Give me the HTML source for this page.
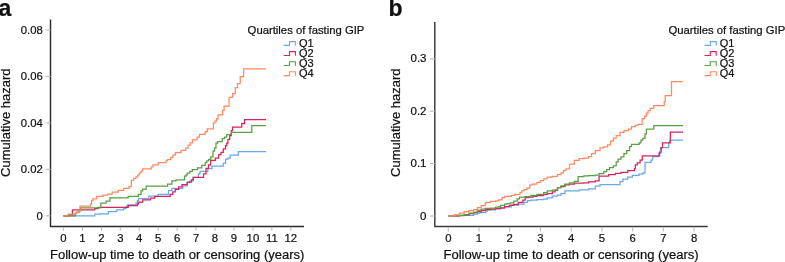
<!DOCTYPE html>
<html><head><meta charset="utf-8"><style>
html,body{margin:0;padding:0;background:#fff;}
svg{display:block;will-change:transform;}
text{stroke:#111;stroke-width:0.22px;}
</style></head><body>
<svg width="785" height="262" viewBox="0 0 785 262" font-family="Liberation Sans, sans-serif" fill="#111">
<path d="M50.5,19.6V226.4H304.0" fill="none" stroke="#2b2b2b" stroke-width="1.45"/>
<path d="M45.60,30.0H50.5" stroke="#bdbdbd" stroke-width="1.1"/>
<path d="M45.60,76.45H50.5" stroke="#bdbdbd" stroke-width="1.1"/>
<path d="M45.60,122.9H50.5" stroke="#bdbdbd" stroke-width="1.1"/>
<path d="M45.60,169.35H50.5" stroke="#bdbdbd" stroke-width="1.1"/>
<path d="M45.60,215.8H50.5" stroke="#bdbdbd" stroke-width="1.1"/>
<text x="42.8" y="33.75" text-anchor="end" font-size="11.3">0.08</text>
<text x="42.8" y="80.20" text-anchor="end" font-size="11.3">0.06</text>
<text x="42.8" y="126.65" text-anchor="end" font-size="11.3">0.04</text>
<text x="42.8" y="173.10" text-anchor="end" font-size="11.3">0.02</text>
<text x="42.8" y="219.55" text-anchor="end" font-size="11.3">0</text>
<path d="M63.50,227.1V230.8" stroke="#bdbdbd" stroke-width="1.1"/>
<text x="63.50" y="241.9" text-anchor="middle" font-size="11.3">0</text>
<path d="M82.44,227.1V230.8" stroke="#bdbdbd" stroke-width="1.1"/>
<text x="82.44" y="241.9" text-anchor="middle" font-size="11.3">1</text>
<path d="M101.38,227.1V230.8" stroke="#bdbdbd" stroke-width="1.1"/>
<text x="101.38" y="241.9" text-anchor="middle" font-size="11.3">2</text>
<path d="M120.32,227.1V230.8" stroke="#bdbdbd" stroke-width="1.1"/>
<text x="120.32" y="241.9" text-anchor="middle" font-size="11.3">3</text>
<path d="M139.26,227.1V230.8" stroke="#bdbdbd" stroke-width="1.1"/>
<text x="139.26" y="241.9" text-anchor="middle" font-size="11.3">4</text>
<path d="M158.20,227.1V230.8" stroke="#bdbdbd" stroke-width="1.1"/>
<text x="158.20" y="241.9" text-anchor="middle" font-size="11.3">5</text>
<path d="M177.14,227.1V230.8" stroke="#bdbdbd" stroke-width="1.1"/>
<text x="177.14" y="241.9" text-anchor="middle" font-size="11.3">6</text>
<path d="M196.08,227.1V230.8" stroke="#bdbdbd" stroke-width="1.1"/>
<text x="196.08" y="241.9" text-anchor="middle" font-size="11.3">7</text>
<path d="M215.02,227.1V230.8" stroke="#bdbdbd" stroke-width="1.1"/>
<text x="215.02" y="241.9" text-anchor="middle" font-size="11.3">8</text>
<path d="M233.96,227.1V230.8" stroke="#bdbdbd" stroke-width="1.1"/>
<text x="233.96" y="241.9" text-anchor="middle" font-size="11.3">9</text>
<path d="M252.90,227.1V230.8" stroke="#bdbdbd" stroke-width="1.1"/>
<text x="252.90" y="241.9" text-anchor="middle" font-size="11.3">10</text>
<path d="M271.84,227.1V230.8" stroke="#bdbdbd" stroke-width="1.1"/>
<text x="271.84" y="241.9" text-anchor="middle" font-size="11.3">11</text>
<path d="M290.78,227.1V230.8" stroke="#bdbdbd" stroke-width="1.1"/>
<text x="290.78" y="241.9" text-anchor="middle" font-size="11.3">12</text>
<text x="177.2" y="258.8" text-anchor="middle" font-size="13">Follow-up time to death or censoring (years)</text>
<text transform="translate(9.9,122.7) rotate(-90)" text-anchor="middle" font-size="13">Cumulative hazard</text>
<path d="M63.3,215.8H94.8V214.1H100.0V213.9H108.4V211.6H116.8V209.8H123.7V208.6H126.0V206.3H127.5V204.8H135.9V203.2H137.4V200.6H138.4V198.7H148.7V196.0H158.2V194.4H168.5V190.6H171.9V188.4H182.9V185.9H187.2V182.5H189.8V180.8H193.2V177.3H198.4V173.9H200.0V171.3H207.8V168.7H211.9V166.0H223.3V163.1H225.6V159.2H227.9V158.0H230.2V155.1H238.3V151.5H266.0" fill="none" stroke="#6aa8e8" stroke-width="1.25"/>
<path d="M63.3,215.8H69.0V214.6H72.4V209.8H94.8V208.5H98.0V207.4H128.2V205.5H137.4V204.0H138.4V202.1H142.7V199.9H150.5V198.1H154.8V196.4H170.2V194.4H172.8V191.8H175.2V189.4H178.6V186.8H182.0V184.6H187.2V182.1H191.5V179.9H193.2V177.3H203.5V173.9H206.0V168.4H208.5V164.9H210.7V160.3H215.3V158.0H218.7V154.6H221.0V152.3H223.3V148.9H225.6V145.5H226.7V143.2H227.9V139.3H229.7V135.6H231.3V130.6H232.5V127.2H241.7V123.7H244.5V119.5H266.0" fill="none" stroke="#d6245a" stroke-width="1.25"/>
<path d="M63.3,215.8H75.3V213.6H76.2V212.0H79.1V210.3H80.5V207.9H100.8V203.2H106.1V201.0H109.9V197.9H128.2V196.4H138.4V194.4H141.0V190.9H142.7V189.2H146.2V186.1H167.6V184.0H171.9V180.8H176.0V179.9H184.6V176.0H186.0V174.8H187.2V173.0H189.8V171.3H192.3V169.6H197.5V167.9H201.8V165.3H205.2V162.7H206.8V160.8H208.7V159.3H210.7V156.9H213.0V151.2H214.6V147.8H216.0V143.2H217.6V141.6H222.2V138.6H224.5V137.0H226.7V134.7H231.3V132.3H251.8V125.5H266.0" fill="none" stroke="#5a9e45" stroke-width="1.25"/>
<path d="M63.3,215.8H68.1V214.1H75.7V212.7H78.6V211.7H80.0V206.0H90.5V204.0H91.5V200.7H92.9V198.8H96.7V196.4H103.0V195.0H107.6V194.1H112.2V192.1H118.3V190.3H123.7V188.3H129.0V186.5H131.3V180.3H133.6V178.4H135.9V176.8H137.6V175.1H139.3V172.9H141.0V171.2H142.7V168.9H151.3V166.9H153.0V164.8H158.2V162.6H165.9V160.9H167.3V159.6H170.7V157.3H173.0V155.0H175.3V152.5H181.0V150.4H185.6V148.1H188.0V145.1H190.2V142.8H192.5V139.9H197.1V137.1H199.4V134.4H205.1V132.1H206.2V131.3H207.3V128.9H213.4V123.2H214.9V121.0H216.5V118.7H218.0V114.8H222.6V110.3H224.1V106.0H229.1V97.3H232.6V93.6H235.3V87.5H237.5V83.7H240.2V76.5H243.6V68.9H266.0" fill="none" stroke="#ff8a62" stroke-width="1.25"/>
<g transform="translate(0,0)">
<text x="247.6" y="34.1" font-size="11.3">Quartiles of fasting GIP</text>
<path d="M283.7,45.40H289.5V41.60H295.4V45.60" fill="none" stroke="#6aa8e8" stroke-width="1.1"/>
<text x="299.0" y="46.50" font-size="11">Q1</text>
<path d="M283.7,55.47H289.5V51.67H295.4V55.67" fill="none" stroke="#d6245a" stroke-width="1.1"/>
<text x="299.0" y="56.57" font-size="11">Q2</text>
<path d="M283.7,65.54H289.5V61.74H295.4V65.74" fill="none" stroke="#5a9e45" stroke-width="1.1"/>
<text x="299.0" y="66.64" font-size="11">Q3</text>
<path d="M283.7,75.61H289.5V71.81H295.4V75.81" fill="none" stroke="#ff8a62" stroke-width="1.1"/>
<text x="299.0" y="76.71" font-size="11">Q4</text>
</g>
<text x="-1.5" y="16" font-size="23" font-weight="bold" stroke="#000" stroke-width="0.35">a</text>
<path d="M434.8,21.9V226.4H707.7" fill="none" stroke="#3c3c3c" stroke-width="1.45"/>
<path d="M429.90,58.8H434.8" stroke="#bdbdbd" stroke-width="1.1"/>
<path d="M429.90,111.2H434.8" stroke="#bdbdbd" stroke-width="1.1"/>
<path d="M429.90,163.6H434.8" stroke="#bdbdbd" stroke-width="1.1"/>
<path d="M429.90,216.0H434.8" stroke="#bdbdbd" stroke-width="1.1"/>
<text x="426.5" y="62.45" text-anchor="end" font-size="11.5">0.3</text>
<text x="426.5" y="114.85" text-anchor="end" font-size="11.5">0.2</text>
<text x="426.5" y="167.25" text-anchor="end" font-size="11.5">0.1</text>
<text x="426.5" y="219.65" text-anchor="end" font-size="11.5">0</text>
<path d="M448.30,227.1V231.4" stroke="#bdbdbd" stroke-width="1.1"/>
<text x="448.30" y="241.9" text-anchor="middle" font-size="11.3">0</text>
<path d="M479.02,227.1V231.4" stroke="#bdbdbd" stroke-width="1.1"/>
<text x="479.02" y="241.9" text-anchor="middle" font-size="11.3">1</text>
<path d="M509.74,227.1V231.4" stroke="#bdbdbd" stroke-width="1.1"/>
<text x="509.74" y="241.9" text-anchor="middle" font-size="11.3">2</text>
<path d="M540.46,227.1V231.4" stroke="#bdbdbd" stroke-width="1.1"/>
<text x="540.46" y="241.9" text-anchor="middle" font-size="11.3">3</text>
<path d="M571.18,227.1V231.4" stroke="#bdbdbd" stroke-width="1.1"/>
<text x="571.18" y="241.9" text-anchor="middle" font-size="11.3">4</text>
<path d="M601.90,227.1V231.4" stroke="#bdbdbd" stroke-width="1.1"/>
<text x="601.90" y="241.9" text-anchor="middle" font-size="11.3">5</text>
<path d="M632.62,227.1V231.4" stroke="#bdbdbd" stroke-width="1.1"/>
<text x="632.62" y="241.9" text-anchor="middle" font-size="11.3">6</text>
<path d="M663.34,227.1V231.4" stroke="#bdbdbd" stroke-width="1.1"/>
<text x="663.34" y="241.9" text-anchor="middle" font-size="11.3">7</text>
<path d="M694.06,227.1V231.4" stroke="#bdbdbd" stroke-width="1.1"/>
<text x="694.06" y="241.9" text-anchor="middle" font-size="11.3">8</text>
<text x="571.05" y="258.8" text-anchor="middle" font-size="13.06">Follow-up time to death or censoring (years)</text>
<text transform="translate(399.7,122.7) rotate(-90)" text-anchor="middle" font-size="13">Cumulative hazard</text>
<path d="M448.3,215.8H460.3V215.4H473.6V214.1H477.4V213.1H480.0V212.7H485.8V211.2H487.4V209.8H495.6V208.6H501.8V208.0H504.6V206.9H511.4V205.2H518.3V204.0H524.0V202.3H527.5V200.6H530.9V200.0H536.9V199.6H543.7V199.2H547.2V197.8H552.3V196.1H557.5V195.2H560.9V193.5H565.0V190.9H574.3V190.8H579.1V189.8H588.6V188.9H595.3V186.0H600.0V184.5H620.0V181.6H622.9V179.1H627.7V177.2H632.4V175.3H639.1V174.0H642.9V172.8H645.0V162.4H651.0V160.1H652.6V156.7H658.8V153.3H660.6V147.5H668.7V142.5H669.8V140.2H683.0" fill="none" stroke="#6aa8e8" stroke-width="1.25"/>
<path d="M448.3,215.8H459.3V215.5H464.1V215.0H468.9V213.6H473.6V212.7H477.4V211.7H481.2V210.7H485.3V209.6H490.4V209.1H495.6V208.6H500.0V207.8H504.6V206.5H509.2V205.4H513.7V204.3H518.3V202.3H522.9V200.0H525.2V197.7H528.6V197.2H533.0V196.4H536.9V195.7H543.7V194.4H547.2V193.5H552.3V191.8H555.0V190.1H557.5V187.5H560.9V186.6H565.0V184.9H569.5V184.1H574.3V183.2H583.9V182.8H588.6V181.8H595.3V180.9H599.1V176.2H608.6V174.7H615.3V173.4H621.0V172.4H627.7V170.5H634.4V168.6H635.3V164.8H637.2V162.9H640.1V160.0H642.3V155.8H659.5V152.1H661.1V147.5H662.5V142.9H670.3V132.1H683.0" fill="none" stroke="#d6245a" stroke-width="1.25"/>
<path d="M448.3,215.8H456.5V215.3H464.1V214.6H468.9V213.1H473.6V212.0H477.4V210.7H478.1V210.1H481.2V209.1H485.3V208.4H490.4V208.1H495.6V207.1H498.7V206.5H500.5V205.3H504.6V204.2H506.9V203.5H510.3V202.9H513.7V201.2H517.2V198.9H519.5V197.2H525.2V196.6H530.9V195.4H536.9V194.4H543.7V192.6H547.2V190.9H552.3V190.1H557.5V187.5H560.9V185.8H564.8V184.1H569.5V182.8H574.3V181.3H578.1V176.5H583.9V175.9H588.6V175.5H595.3V175.2H599.1V173.6H603.8V171.5H606.7V169.6H609.5V167.7H613.4V165.8H616.2V161.9H618.1V159.1H621.0V156.8H623.9V153.7H626.7V150.5H629.6V146.7H631.5V144.3H639.1V142.9H641.0V140.1H642.8V138.3H645.0V133.8H646.4V129.2H653.8V125.5H683.0" fill="none" stroke="#5a9e45" stroke-width="1.25"/>
<path d="M448.3,215.8H454.5V214.8H459.3V213.1H464.1V211.7H468.9V210.7H473.6V209.6H477.4V207.5H481.2V205.5H485.3V202.9H486.3V202.4H490.4V201.4H495.6V200.9H498.7V199.8H501.8V198.3H502.3V197.7H504.6V196.4H511.4V195.4H514.9V194.3H520.0V192.6H521.7V190.9H524.0V189.7H526.9V188.0H529.7V185.1H532.0V184.0H536.9V182.3H540.3V180.6H543.7V178.9H547.2V177.2H552.3V176.3H557.5V174.6H560.9V172.9H563.5V170.3H566.0V168.8H569.5V164.1H574.3V160.3H579.1V158.7H583.9V158.0H588.6V156.5H591.5V153.6H595.3V150.7H600.0V147.9H603.8V146.8H607.6V144.8H610.5V141.0H613.4V138.2H616.2V135.7H620.0V132.4H623.9V130.5H628.6V129.2H631.5V126.7H635.3V125.2H638.2V124.4H642.1V118.7H644.6V116.2H646.3V113.1H648.0V110.5H650.1V108.4H653.7V105.7H664.2V101.5H665.2V95.6H671.5V81.6H683.0" fill="none" stroke="#ff8a62" stroke-width="1.25"/>
<g transform="translate(420.8,0)">
<text x="247.6" y="34.1" font-size="11.3">Quartiles of fasting GIP</text>
<path d="M283.7,45.40H289.5V41.60H295.4V45.60" fill="none" stroke="#6aa8e8" stroke-width="1.1"/>
<text x="299.0" y="46.50" font-size="11">Q1</text>
<path d="M283.7,55.47H289.5V51.67H295.4V55.67" fill="none" stroke="#d6245a" stroke-width="1.1"/>
<text x="299.0" y="56.57" font-size="11">Q2</text>
<path d="M283.7,65.54H289.5V61.74H295.4V65.74" fill="none" stroke="#5a9e45" stroke-width="1.1"/>
<text x="299.0" y="66.64" font-size="11">Q3</text>
<path d="M283.7,75.61H289.5V71.81H295.4V75.81" fill="none" stroke="#ff8a62" stroke-width="1.1"/>
<text x="299.0" y="76.71" font-size="11">Q4</text>
</g>
<text x="388.4" y="16" font-size="23" font-weight="bold" stroke="#000" stroke-width="0.35">b</text>
</svg>
</body></html>
